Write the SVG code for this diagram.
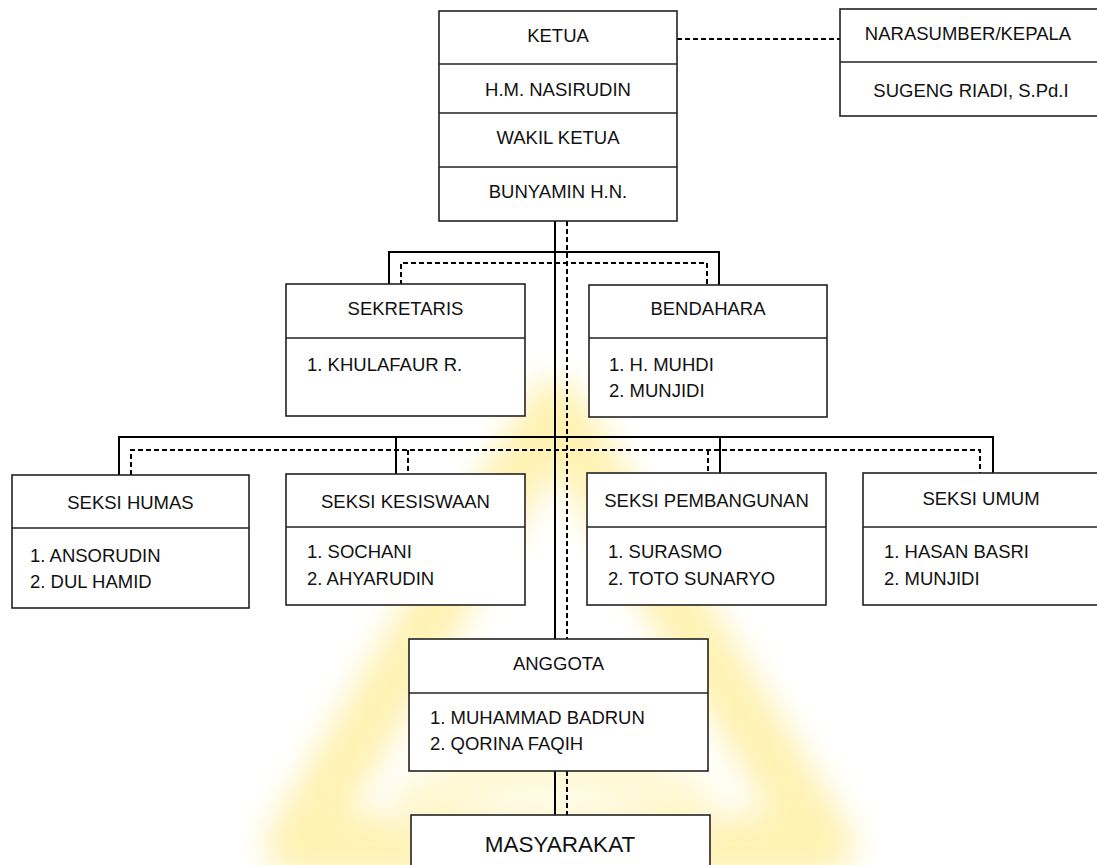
<svg xmlns="http://www.w3.org/2000/svg" width="1097" height="865" viewBox="0 0 1097 865">
<style>
.box{fill:#fff;stroke:#222;stroke-width:1.6}
.div{stroke:#222;stroke-width:1.6}
.t{font-family:"Liberation Sans",Arial,sans-serif;font-size:18.5px;fill:#111}
.c{text-anchor:middle}
.big{font-size:22.5px}
.solid{fill:none;stroke:#000;stroke-width:2}
.dash{fill:none;stroke:#000;stroke-width:2;stroke-dasharray:5 3}
</style>
<defs>
<filter id="blur" x="-20%" y="-20%" width="140%" height="140%"><feGaussianBlur stdDeviation="16"/></filter>
</defs>
<rect width="1097" height="865" fill="#fff"/>
<g id="watermark" filter="url(#blur)" opacity="0.3">
<path d="M555,410 L295,845 L825,845 Z" fill="none" stroke="#FFD400" stroke-width="60" stroke-linejoin="round"/>
<path d="M400,810 Q555,730 710,810" fill="none" stroke="#FFE866" stroke-width="45"/>
</g>
<g id="connectors">
<line class="dash" x1="677" y1="39" x2="840" y2="39"/>
<line class="solid" x1="555" y1="221" x2="555" y2="639"/>
<line class="dash" x1="567" y1="221" x2="567" y2="639"/>
<line class="solid" x1="555" y1="771" x2="555" y2="815"/>
<line class="dash" x1="567" y1="771" x2="567" y2="815"/>
<path class="solid" d="M389,285 V252 H719 V285"/>
<path class="dash" d="M401,285 V263 H707 V285"/>
<path class="solid" d="M119,475 V437 H993 V473"/>
<line class="solid" x1="396" y1="437" x2="396" y2="474"/>
<line class="solid" x1="720" y1="437" x2="720" y2="473"/>
<path class="dash" d="M131,475 V450 H980 V473"/>
<line class="dash" x1="408" y1="450" x2="408" y2="474"/>
<line class="dash" x1="708" y1="450" x2="708" y2="473"/>
</g>
<g id="ketua">
<rect class="box" x="439" y="11" width="238" height="210"/>
<line class="div" x1="439" y1="64" x2="677" y2="64"/>
<line class="div" x1="439" y1="113" x2="677" y2="113"/>
<line class="div" x1="439" y1="167" x2="677" y2="167"/>
<text class="t c" x="558" y="42">KETUA</text>
<text class="t c" x="558" y="96">H.M. NASIRUDIN</text>
<text class="t c" x="558" y="144">WAKIL KETUA</text>
<text class="t c" x="558" y="198">BUNYAMIN H.N.</text>
</g>
<g id="narasumber">
<rect class="box" x="840" y="9" width="270" height="107"/>
<line class="div" x1="840" y1="62" x2="1100" y2="62"/>
<text class="t c" x="968" y="40">NARASUMBER/KEPALA</text>
<text class="t c" x="971" y="97">SUGENG RIADI, S.Pd.I</text>
</g>
<g id="sekretaris">
<rect class="box" x="286" y="284" width="239" height="132"/>
<line class="div" x1="286" y1="338" x2="525" y2="338"/>
<text class="t c" x="405.5" y="315">SEKRETARIS</text>
<text class="t" x="307" y="371">1. KHULAFAUR R.</text>
</g>
<g id="bendahara">
<rect class="box" x="589" y="285" width="238" height="132"/>
<line class="div" x1="589" y1="338" x2="827" y2="338"/>
<text class="t c" x="708" y="315">BENDAHARA</text>
<text class="t" x="609" y="371">1. H. MUHDI</text>
<text class="t" x="609" y="397">2. MUNJIDI</text>
</g>
<g id="humas">
<rect class="box" x="12" y="475" width="237" height="133"/>
<line class="div" x1="12" y1="528" x2="249" y2="528"/>
<text class="t c" x="130.5" y="509">SEKSI HUMAS</text>
<text class="t" x="30" y="562">1. ANSORUDIN</text>
<text class="t" x="30" y="588">2. DUL HAMID</text>
</g>
<g id="kesiswaan">
<rect class="box" x="286" y="474" width="239" height="131"/>
<line class="div" x1="286" y1="527" x2="525" y2="527"/>
<text class="t c" x="405.5" y="508">SEKSI KESISWAAN</text>
<text class="t" x="307" y="558">1. SOCHANI</text>
<text class="t" x="307" y="585">2. AHYARUDIN</text>
</g>
<g id="pembangunan">
<rect class="box" x="587" y="473" width="239" height="132"/>
<line class="div" x1="587" y1="527" x2="826" y2="527"/>
<text class="t c" x="706.5" y="507">SEKSI PEMBANGUNAN</text>
<text class="t" x="608" y="558">1. SURASMO</text>
<text class="t" x="608" y="585">2. TOTO SUNARYO</text>
</g>
<g id="umum">
<rect class="box" x="863" y="473" width="250" height="132"/>
<line class="div" x1="863" y1="527" x2="1100" y2="527"/>
<text class="t c" x="981" y="505">SEKSI UMUM</text>
<text class="t" x="884" y="558">1. HASAN BASRI</text>
<text class="t" x="884" y="585">2. MUNJIDI</text>
</g>
<g id="anggota">
<rect class="box" x="409" y="639" width="299" height="132"/>
<line class="div" x1="409" y1="693" x2="708" y2="693"/>
<text class="t c" x="558.5" y="670">ANGGOTA</text>
<text class="t" x="430" y="724">1. MUHAMMAD BADRUN</text>
<text class="t" x="430" y="750">2. QORINA FAQIH</text>
</g>
<g id="masyarakat">
<rect class="box" x="411" y="815" width="299" height="60"/>
<text class="t c big" x="560" y="852">MASYARAKAT</text>
</g>
</svg>
